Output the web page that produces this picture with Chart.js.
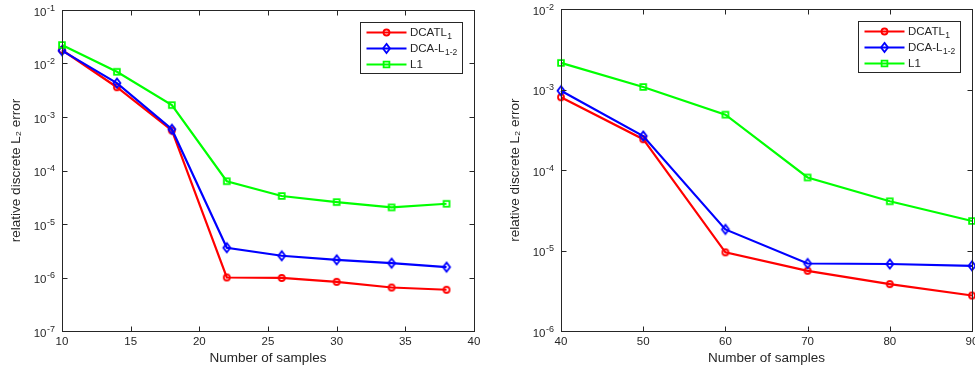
<!DOCTYPE html>
<html>
<head>
<meta charset="utf-8">
<script src="https://cdn.jsdelivr.net/npm/chart.js@4.4.0/dist/chart.umd.min.js"></script>
<style>
  html, body { margin: 0; padding: 0; background: #fff; overflow: hidden; }
  #wrap { position: relative; width: 975px; height: 370px; overflow: hidden; background: #fff; }
  canvas { position: absolute; top: 0; }
  #left { left: 0; }
  #right { left: 487px; }
</style>
</head>
<body>
<div id="wrap">
  <canvas id="left" width="487" height="370"></canvas>
  <canvas id="right" width="513" height="370"></canvas>
</div>
<script>
// --- data ---
const samplesA = [10, 14, 18, 22, 26, 30, 34, 38];
const dcatlA = [1.79e-2, 3.6e-3, 5.6e-4, 1.0e-6, 9.8e-7, 8.3e-7, 6.5e-7, 5.9e-7];
const dcaA   = [1.74e-2, 4.3e-3, 5.9e-4, 3.6e-6, 2.55e-6, 2.14e-6, 1.85e-6, 1.56e-6];
const l1A    = [2.22e-2, 7.0e-3, 1.67e-3, 6.3e-5, 3.34e-5, 2.57e-5, 2.04e-5, 2.39e-5];

const samplesB = [40, 50, 60, 70, 80, 90];
const dcatlB = [8.05e-4, 2.42e-4, 9.5e-6, 5.6e-6, 3.83e-6, 2.76e-6];
const dcaB   = [9.7e-4, 2.65e-4, 1.83e-5, 6.9e-6, 6.8e-6, 6.45e-6];
const l1B    = [2.15e-3, 1.08e-3, 4.89e-4, 8.1e-5, 4.1e-5, 2.33e-5];

const xTicksA = [10, 15, 20, 25, 30, 35, 40];
const yExpA = [-7, -6, -5, -4, -3, -2, -1];
const xTicksB = [40, 50, 60, 70, 80, 90];
const yExpB = [-6, -5, -4, -3, -2];

// legend names: base text + subscript
const seriesNames = [['DCATL', '1'], ['DCA-L', '1-2'], ['L1', '']];
const seriesColors = ['#ff0000', '#0000ff', '#00ff00'];
const seriesMarkers = ['circle', 'diamond', 'square'];

const xTitle = 'Number of samples';
const yTitle = 'relative discrete L\u2082 error';

const INK = '#262626';
const FONT = '"Liberation Sans", Arial, sans-serif';
const TICK = 5;
const MARK_LW = 1.8;

function markerPath(ctx, style, x, y) {
  ctx.beginPath();
  if (style === 'circle') {
    ctx.arc(x, y, 3, 0, Math.PI * 2);
  } else if (style === 'diamond') {
    ctx.moveTo(x, y - 4.6); ctx.lineTo(x + 3.5, y); ctx.lineTo(x, y + 4.6); ctx.lineTo(x - 3.5, y);
    ctx.closePath();
  } else {
    ctx.rect(x - 2.9, y - 2.9, 5.8, 5.8);
  }
}

// marker sprites handed to Chart.js as pointStyle
function markerSprite(style, color) {
  const c = document.createElement('canvas');
  c.width = 14; c.height = 14;
  const g = c.getContext('2d');
  g.strokeStyle = color;
  g.lineWidth = MARK_LW;
  markerPath(g, style, 7, 7);
  g.stroke();
  return c;
}

// MATLAB-like box, inward ticks, 10^n labels and legend
const matlabAxes = {
  id: 'matlabAxes',
  afterDraw(chart) {
    const { ctx, chartArea: a, scales: { x, y } } = chart;
    ctx.save();
    ctx.strokeStyle = INK;
    ctx.lineWidth = 1;
    const L = Math.round(a.left) + 0.5, R = Math.round(a.right) + 0.5;
    const T = Math.round(a.top) + 0.5, B = Math.round(a.bottom) + 0.5;
    ctx.beginPath();
    x.ticks.forEach(t => {
      const px = Math.round(x.getPixelForValue(t.value)) + 0.5;
      ctx.moveTo(px, B); ctx.lineTo(px, B - TICK);
      ctx.moveTo(px, T); ctx.lineTo(px, T + TICK);
    });
    y.ticks.forEach(t => {
      const py = Math.round(y.getPixelForValue(t.value)) + 0.5;
      ctx.moveTo(L, py); ctx.lineTo(L + TICK, py);
      ctx.moveTo(R, py); ctx.lineTo(R - TICK, py);
    });
    ctx.stroke();
    ctx.strokeRect(L, T, R - L, B - T);

    // y tick labels 10^e
    ctx.fillStyle = INK;
    ctx.textBaseline = 'alphabetic';
    ctx.textAlign = 'left';
    y.ticks.forEach(t => {
      const py = y.getPixelForValue(t.value);
      const e = String(Math.round(Math.log10(t.value)));
      ctx.font = '9px ' + FONT;
      const ew = ctx.measureText(e).width;
      ctx.font = '11.5px ' + FONT;
      const bw = ctx.measureText('10').width;
      const right = a.left - 7;
      ctx.fillText('10', right - ew - bw - 0.5, py + 5.5);
      ctx.font = '9px ' + FONT;
      ctx.fillText(e, right - ew, py + 0.5);
    });

    // legend
    const bw = 102, bh = 51;
    const bx = Math.round(a.right - 12 - bw) + 0.5;
    const by = Math.round(a.top + 12) + 0.5;
    ctx.fillStyle = '#fff';
    ctx.fillRect(bx, by, bw, bh);
    ctx.strokeStyle = INK;
    ctx.lineWidth = 1;
    ctx.strokeRect(bx, by, bw, bh);
    seriesNames.forEach((name, i) => {
      const ry = by + 10 + i * 16;
      ctx.strokeStyle = seriesColors[i];
      ctx.lineWidth = 2.2;
      ctx.beginPath();
      ctx.moveTo(bx + 6, ry); ctx.lineTo(bx + 46, ry);
      ctx.stroke();
      ctx.lineWidth = MARK_LW;
      markerPath(ctx, seriesMarkers[i], bx + 26, ry);
      ctx.stroke();
      ctx.fillStyle = INK;
      ctx.textBaseline = 'middle';
      ctx.font = '11.5px ' + FONT;
      ctx.fillText(name[0], bx + 49.5, ry);
      if (name[1]) {
        const w = ctx.measureText(name[0]).width;
        ctx.font = '8.5px ' + FONT;
        ctx.fillText(name[1], bx + 49.5 + w + 0.5, ry + 4.5);
      }
    });
    ctx.restore();
  }
};

function makeChart(canvas, xs, ys, xTicks, yExps, yWidth, pad, yTitlePad) {
  const datasets = ys.map((vals, i) => ({
    label: seriesNames[i].join(''),
    data: xs.map((v, k) => ({ x: v, y: vals[k] })),
    borderColor: seriesColors[i],
    borderWidth: 2.2,
    pointStyle: markerSprite(seriesMarkers[i], seriesColors[i]),
    pointRadius: 7,
    tension: 0,
    clip: false,
    order: 3 - i,
  }));
  return new Chart(canvas.getContext('2d'), {
    type: 'line',
    data: { datasets },
    options: {
      responsive: false,
      animation: false,
      events: [],
      devicePixelRatio: 1,
      layout: { padding: pad },
      plugins: { legend: { display: false }, tooltip: { enabled: false } },
      scales: {
        x: {
          type: 'linear',
          min: xTicks[0],
          max: xTicks[xTicks.length - 1],
          afterBuildTicks: s => { s.ticks = xTicks.map(v => ({ value: v })); },
          afterFit: s => { s.height = 39; },
          grid: { display: false, drawTicks: false },
          border: { display: false },
          ticks: { color: INK, font: { family: FONT, size: 11.5 }, padding: 4, maxRotation: 0 },
          title: { display: true, text: xTitle, color: INK, font: { family: FONT, size: 13.5 }, padding: { top: 0, bottom: 4 } },
        },
        y: {
          type: 'logarithmic',
          min: Math.pow(10, yExps[0]),
          max: Math.pow(10, yExps[yExps.length - 1]),
          afterBuildTicks: s => { s.ticks = yExps.map(e => ({ value: Math.pow(10, e) })); },
          afterFit: s => { s.width = yWidth; },
          grid: { display: false, drawTicks: false },
          border: { display: false },
          ticks: { display: false },
          title: { display: true, text: yTitle, color: INK, font: { family: FONT, size: 13.5 }, padding: { top: yTitlePad, bottom: 0 } },
        },
      },
    },
    plugins: [matlabAxes],
  });
}

makeChart(document.getElementById('left'), samplesA, [dcatlA, dcaA, l1A], xTicksA, yExpA, 62,
  { top: 10, right: 13, left: 0, bottom: 0 }, 8);
makeChart(document.getElementById('right'), samplesB, [dcatlB, dcaB, l1B], xTicksB, yExpB, 74,
  { top: 9, right: 28, left: 0, bottom: 0 }, 20);
</script>
</body>
</html>
